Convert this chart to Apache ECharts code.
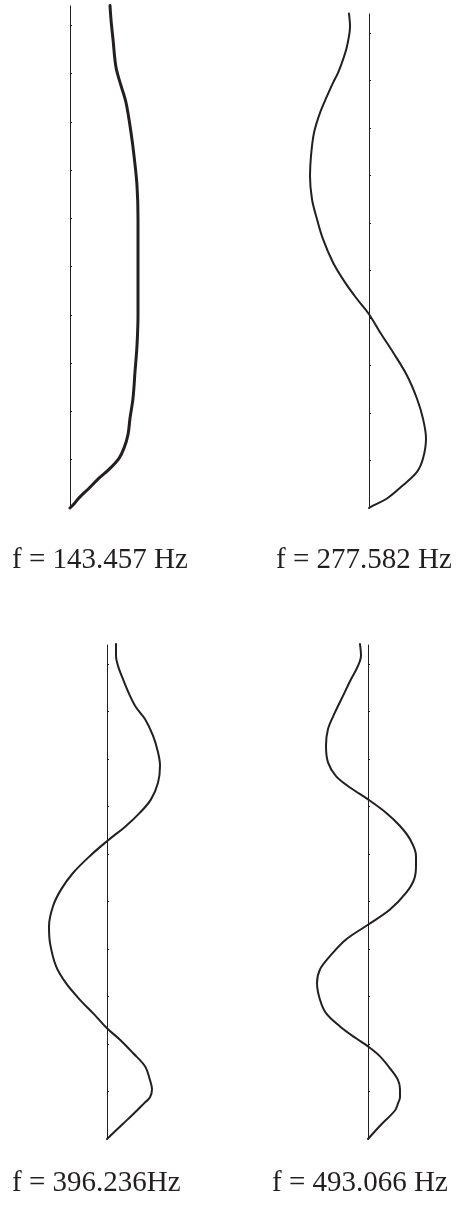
<!DOCTYPE html>
<html>
<head>
<meta charset="utf-8">
<script src="https://cdn.jsdelivr.net/npm/echarts@6/dist/echarts.min.js"></script>
<style>
  html, body { margin: 0; padding: 0; background: #ffffff; }
  #chart { width: 456px; height: 1210px; }
</style>
</head>
<body>
<div id="chart"></div>
<script>
// Mode shapes of a beam: height along the beam (0 = base) and lateral displacement.
const frequencies = ['f = 143.457 Hz', 'f = 277.582 Hz', 'f = 396.236Hz', 'f = 493.066 Hz'];

const mode1Height = [10.41, 10.12, 9.71, 9.13, 8.75, 8.40, 7.78, 7.30, 6.68, 5.99, 5.00, 4.00, 3.37, 2.82, 2.27, 1.86, 1.52, 1.24, 1.03, 0.80, 0.62, 0.41, 0.21, 0.06, 0];
const mode1Disp   = [0.40, 0.41, 0.43, 0.46, 0.51, 0.56, 0.61, 0.64, 0.67, 0.68, 0.68, 0.68, 0.67, 0.65, 0.63, 0.60, 0.58, 0.54, 0.49, 0.39, 0.29, 0.19, 0.09, 0.03, 0];

const mode2Height = [10.41, 10.14, 9.72, 9.44, 9.16, 8.95, 8.67, 8.32, 7.90, 7.41, 6.99, 6.50, 6.08, 5.66, 5.17, 4.75, 4.40, 4.08, 3.70, 3.28, 2.79, 2.30, 1.88, 1.46, 1.04, 0.76, 0.48, 0.20, 0.05, 0];
const mode2Disp   = [-0.20, -0.19, -0.22, -0.26, -0.31, -0.36, -0.42, -0.49, -0.55, -0.58, -0.59, -0.57, -0.52, -0.46, -0.36, -0.24, -0.12, 0, 0.11, 0.24, 0.38, 0.48, 0.54, 0.57, 0.54, 0.48, 0.34, 0.18, 0.04, 0];

const mode3Height = [10.42, 10.18, 9.96, 9.68, 9.33, 9.09, 8.84, 8.49, 8.14, 7.86, 7.50, 7.15, 6.87, 6.59, 6.27, 5.96, 5.60, 5.25, 4.90, 4.48, 4.13, 3.64, 3.28, 2.93, 2.65, 2.33, 2.09, 1.81, 1.53, 1.24, 1.05, 0.88, 0.75, 0.60, 0.30, 0];
const mode3Disp   = [0.09, 0.09, 0.11, 0.16, 0.23, 0.29, 0.38, 0.46, 0.51, 0.53, 0.51, 0.44, 0.33, 0.19, 0, -0.17, -0.34, -0.46, -0.54, -0.58, -0.57, -0.51, -0.41, -0.27, -0.14, 0, 0.13, 0.26, 0.38, 0.43, 0.45, 0.43, 0.37, 0.30, 0.15, 0];

const mode4Height = [10.42, 10.18, 9.96, 9.68, 9.33, 8.98, 8.63, 8.28, 7.93, 7.64, 7.40, 7.15, 6.87, 6.59, 6.31, 5.96, 5.75, 5.46, 5.18, 4.83, 4.51, 4.20, 3.85, 3.57, 3.28, 2.93, 2.65, 2.37, 2.12, 1.95, 1.74, 1.46, 1.24, 1.05, 0.88, 0.75, 0.60, 0.30, 0];
const mode4Disp   = [-0.08, -0.07, -0.10, -0.17, -0.25, -0.33, -0.40, -0.42, -0.40, -0.32, -0.18, 0, 0.18, 0.32, 0.42, 0.48, 0.48, 0.46, 0.38, 0.22, 0, -0.22, -0.38, -0.48, -0.51, -0.48, -0.42, -0.28, -0.12, 0, 0.12, 0.23, 0.30, 0.32, 0.32, 0.30, 0.27, 0.13, 0];

const tickHeights = [1, 2, 3, 4, 5, 6, 7, 8, 9, 10];

const INK = '#231f20';

// Panel layout: where each small plot sits on the page
const panels = [
  { height: mode1Height, disp: mode1Disp, left: 70,  width: 80,  xMin: 0,    xMax: 0.8, top: 6,   bottom: 508,  lw: 3 },
  { height: mode2Height, disp: mode2Disp, left: 289, width: 160, xMin: -0.8, xMax: 0.8, top: 14,  bottom: 508,  lw: 2 },
  { height: mode3Height, disp: mode3Disp, left: 27,  width: 160, xMin: -0.8, xMax: 0.8, top: 645, bottom: 1139, lw: 2 },
  { height: mode4Height, disp: mode4Disp, left: 288, width: 160, xMin: -0.8, xMax: 0.8, top: 645, bottom: 1139, lw: 2 }
];

const grid = [], xAxis = [], yAxis = [], series = [];
panels.forEach((p, i) => {
  grid.push({ left: p.left, width: p.width, top: p.top, height: p.bottom - p.top });
  xAxis.push({ gridIndex: i, type: 'value', min: p.xMin, max: p.xMax, show: false });
  yAxis.push({
    gridIndex: i, type: 'value', min: 0, max: 10.4,
    splitLine: { show: false },
    axisLabel: { show: false },
    axisLine: { show: true, onZero: true, lineStyle: { color: INK, width: 1 } },
    axisTick: { show: true, inside: true, length: 2, customValues: tickHeights, lineStyle: { color: INK, width: 1 } }
  });
  series.push({
    type: 'line', xAxisIndex: i, yAxisIndex: i,
    data: p.height.map((h, k) => [p.disp[k], h]),
    smooth: 0.35, showSymbol: false, clip: false, silent: true,
    lineStyle: { color: INK, width: p.lw, cap: 'round', join: 'round' }
  });
});

const labelPos = [[12, 560], [276, 560], [12, 1183], [272, 1183]];
const graphic = frequencies.map((t, i) => ({
  type: 'text', x: labelPos[i][0], y: labelPos[i][1],
  style: { text: t, font: '29px "Liberation Serif", "DejaVu Serif", serif', fill: INK, textAlign: 'left', textVerticalAlign: 'middle' }
}));

const chart = echarts.init(document.getElementById('chart'), null, { renderer: 'canvas' });
chart.setOption({ animation: false, backgroundColor: '#ffffff', grid, xAxis, yAxis, series, graphic });
</script>
</body>
</html>
